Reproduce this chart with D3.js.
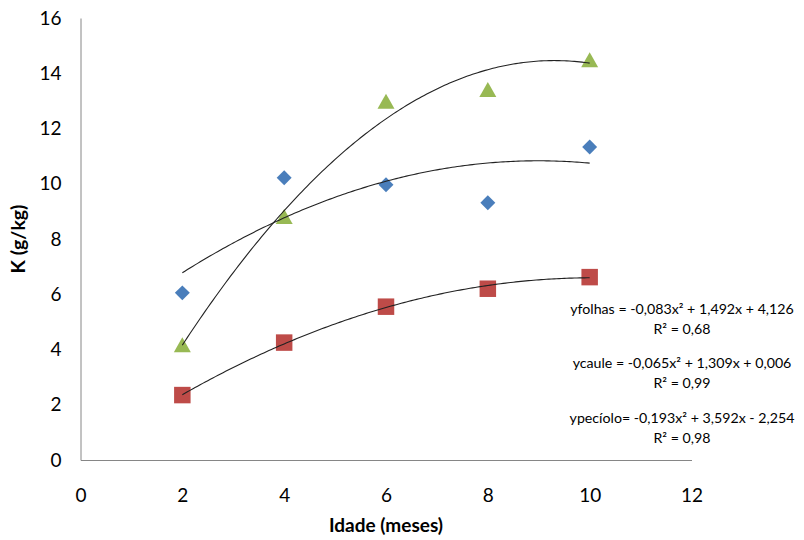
<!DOCTYPE html>
<html><head><meta charset="utf-8">
<script src="https://cdn.jsdelivr.net/npm/d3@7/dist/d3.min.js"></script>
<style>body{margin:0;background:#fff}svg{display:block}text{font-family:Lato,"Open Sans",sans-serif;fill:#000}</style>
</head><body>
<script>
const idade = [2, 4, 6, 8, 10];
const folhas = [6.05, 10.22, 9.96, 9.31, 11.33];
const caule = [2.35, 4.25, 5.55, 6.2, 6.62];
const peciolo = [4.15, 8.8, 12.97, 13.39, 14.47];
const coefFolhas = [-0.083, 1.492, 4.126];
const coefCaule = [-0.065, 1.309, 0.006];
const coefPeciolo = [-0.193, 3.592, -2.254];
const xTicks = [0, 2, 4, 6, 8, 10, 12];
const yTicks = [0, 2, 4, 6, 8, 10, 12, 14, 16];
const equations = [
  ["yfolhas = -0,083x² + 1,492x + 4,126", "R² = 0,68"],
  ["ycaule = -0,065x² + 1,309x + 0,006", "R² = 0,99"],
  ["ypecíolo= -0,193x² + 3,592x - 2,254", "R² = 0,98"]
];

const W = 804, H = 540;
const svg = d3.select("body").append("svg").attr("width", W).attr("height", H);
const x = d3.scaleLinear().domain([0, 12]).range([80.5, 691.5]);
const y = d3.scaleLinear().domain([0, 16]).range([460, 18]);

// axes
const xAxis = svg.append("g").attr("transform", `translate(0,${y(0)})`)
  .call(d3.axisBottom(x).tickValues(xTicks).tickSize(0).tickPadding(29));
const yAxis = svg.append("g").attr("transform", `translate(${x(0)},0)`)
  .call(d3.axisLeft(y).tickValues(yTicks).tickSize(0).tickPadding(19));
[xAxis, yAxis].forEach(g => {
  g.select(".domain").attr("stroke", "#868686").attr("stroke-width", 1);
  g.selectAll("text").style("font-size", "19px").style("font-family", "Lato,'Open Sans',sans-serif").attr("fill", "#1a1a1a");
});

// markers
svg.append("g").selectAll("path").data(idade.map((d, i) => [d, caule[i]])).join("path")
  .attr("d", d3.symbol(d3.symbolSquare, 272)())
  .attr("transform", d => `translate(${x(d[0])},${y(d[1])})`)
  .attr("fill", "#be4b48");
svg.append("g").selectAll("path").data(idade.map((d, i) => [d, folhas[i]])).join("path")
  .attr("d", d3.symbol(d3.symbolSquare, 112)())
  .attr("transform", d => `translate(${x(d[0])},${y(d[1])}) rotate(45)`)
  .attr("fill", "#4a7ebb");
svg.append("g").selectAll("path").data(idade.map((d, i) => [d, peciolo[i]])).join("path")
  .attr("d", "M0,-8L8.5,7L-8.5,7Z")
  .attr("transform", d => `translate(${x(d[0])},${y(d[1])})`)
  .attr("fill", "#98b954");

// trendlines (drawn above markers)
const xs = d3.range(2, 10.0001, 0.05);
const line = d3.line().x(d => x(d[0])).y(d => y(d[1]));
[coefFolhas, coefCaule, coefPeciolo].forEach(c => {
  svg.append("path")
    .datum(xs.map(v => [v, c[0]*v*v + c[1]*v + c[2]]))
    .attr("d", line).attr("fill", "none").attr("stroke", "#222").attr("stroke-width", 1.1);
});

// equations
const eqY = [310, 364, 419];
equations.forEach((e, i) => {
  svg.append("text").attr("x", 682).attr("y", eqY[i]).attr("text-anchor", "middle")
    .attr("dominant-baseline", "middle").style("font-size", "14.2px").text(e[0]);
  svg.append("text").attr("x", 682).attr("y", eqY[i] + 20.5).attr("text-anchor", "middle")
    .attr("dominant-baseline", "middle").style("font-size", "14.2px").text(e[1]);
});

// titles
svg.append("text").attr("x", 386).attr("y", 527).attr("text-anchor", "middle")
  .attr("dominant-baseline", "middle").style("font-size", "19px").style("font-weight", "bold").text("Idade (meses)");
svg.append("text").attr("transform", "translate(20,239) rotate(-90)").attr("text-anchor", "middle")
  .attr("dominant-baseline", "middle").style("font-size", "19.5px").style("font-weight", "bold").text("K (g/kg)");
</script>
</body></html>
